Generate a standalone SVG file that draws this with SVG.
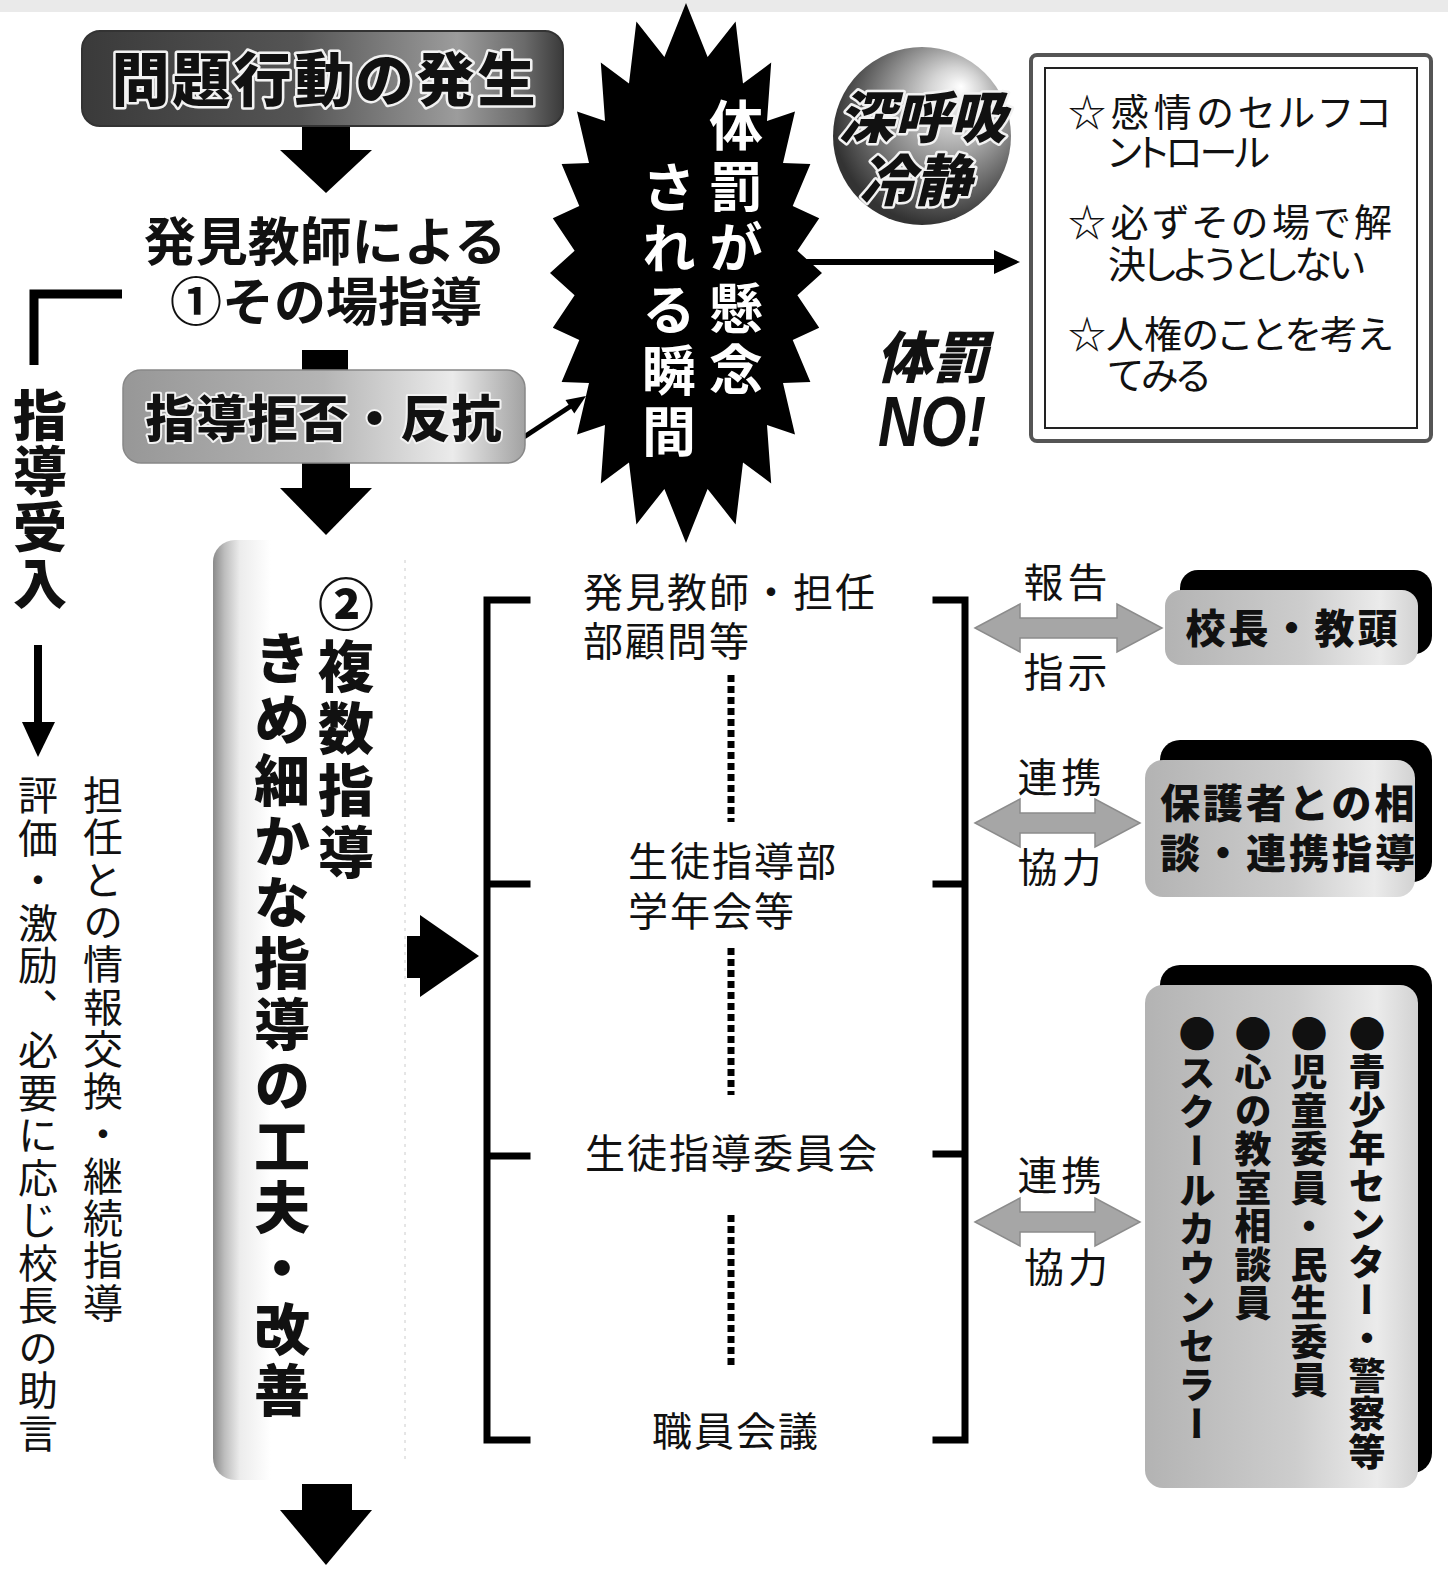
<svg xmlns="http://www.w3.org/2000/svg" width="1448" height="1572" viewBox="0 0 1448 1572">
<defs>
<style>
.t{font-family:"Noto Sans CJK JP","Noto Sans CJK SC",sans-serif;fill:#111}
.r{font-weight:400}
.b{font-weight:700}
.h{font-weight:900}
.v{writing-mode:vertical-rl}
.w{fill:#fff}
.p{font-feature-settings:"palt"}
.ol{stroke:#f2f2f2;stroke-width:5;paint-order:stroke;stroke-linejoin:round}
.blk{fill:#000}
.dot{stroke:#000;stroke-width:7;stroke-dasharray:7 4;fill:none}
.brk{stroke:#000;stroke-width:7;fill:none;stroke-linecap:square}
.dbl{fill:#a6a6a6;stroke:#8c8c8c;stroke-width:1.5}
</style>
<linearGradient id="gTop" x1="0" y1="0" x2="1" y2="0">
<stop offset="0" stop-color="#3a3a3a"/><stop offset="0.45" stop-color="#555"/><stop offset="0.78" stop-color="#9c9c9c"/><stop offset="0.92" stop-color="#6a6a6a"/><stop offset="1" stop-color="#3a3a3a"/>
</linearGradient>
<linearGradient id="gMid" x1="0" y1="0" x2="1" y2="0">
<stop offset="0" stop-color="#979797"/><stop offset="0.5" stop-color="#b5b5b5"/><stop offset="0.82" stop-color="#ebebeb"/><stop offset="1" stop-color="#a2a2a2"/>
</linearGradient>
<linearGradient id="gPanel" x1="0" y1="0" x2="1" y2="0">
<stop offset="0" stop-color="#8a8a8a"/><stop offset="0.06" stop-color="#bdbdbd"/><stop offset="0.14" stop-color="#ececec"/><stop offset="0.3" stop-color="#fff"/><stop offset="1" stop-color="#fff"/>
</linearGradient>
<linearGradient id="gBox" x1="0" y1="0" x2="1" y2="0">
<stop offset="0" stop-color="#b3b3b3"/><stop offset="0.55" stop-color="#cdcdcd"/><stop offset="0.85" stop-color="#ebebeb"/><stop offset="1" stop-color="#d2d2d2"/>
</linearGradient>
<radialGradient id="gBall" cx="0.6" cy="0.4" r="0.6" fx="0.72" fy="0.22">
<stop offset="0" stop-color="#fff"/><stop offset="0.25" stop-color="#d4d4d4"/><stop offset="0.6" stop-color="#8a8a8a"/><stop offset="0.9" stop-color="#4a4a4a"/><stop offset="1" stop-color="#333"/>
</radialGradient>
</defs>

<rect x="0" y="0" width="1448" height="12" fill="#dcdcdc" opacity="0.6"/>

<g id="connectors">
<rect class="blk" x="302" y="124" width="48" height="28"/>
<polygon class="blk" points="280,150 372,150 326,193"/>
<rect class="blk" x="302" y="350" width="46" height="26"/>
<rect class="blk" x="302" y="460" width="48" height="30"/>
<polygon class="blk" points="280,488 372,488 326,535"/>
<rect class="blk" x="302" y="1484" width="50" height="28"/>
<polygon class="blk" points="280,1510 372,1510 326,1565"/>
<line x1="524" y1="437" x2="571" y2="406" stroke="#000" stroke-width="5"/>
<polygon class="blk" points="586,396 574.3,413.5 565.5,400.1"/>
<line x1="800" y1="262" x2="1000" y2="262" stroke="#000" stroke-width="6"/>
<polygon class="blk" points="994,250 1020,262 994,274"/>
<polyline points="34,365 34,294 122,294" stroke="#000" stroke-width="9" fill="none"/>
<rect class="blk" x="34" y="645" width="8" height="80"/>
<polygon class="blk" points="22,722 55,722 38,757"/>
<rect class="blk" x="407" y="936" width="16" height="42"/>
<polygon class="blk" points="420,915 479,956 420,997"/>
<path class="brk" d="M527,600 H487 V1440 H527 M487,884 H527 M487,1156 H527"/>
<path class="brk" d="M936,600 H965 V1440 H936 M936,884 H965 M936,1154 H965"/>
<line class="dot" x1="731" y1="675" x2="731" y2="822"/>
<line class="dot" x1="731" y1="948" x2="731" y2="1095"/>
<line class="dot" x1="731" y1="1215" x2="731" y2="1365"/>
<polygon class="dbl" points="975,628 1020,604 1020,618 1117,618 1117,604 1162,628 1117,652 1117,638 1020,638 1020,652"/>
<polygon class="dbl" points="975,823 1020,799 1020,813 1095,813 1095,799 1140,823 1095,847 1095,833 1020,833 1020,847"/>
<polygon class="dbl" points="975,1222 1020,1198 1020,1212 1095,1212 1095,1198 1140,1222 1095,1246 1095,1232 1020,1232 1020,1246"/>
</g>

<g id="node-occurrence">
<rect x="82" y="31" width="481" height="95" rx="18" fill="url(#gTop)" stroke="#333" stroke-width="2"/>
<text class="t h ol" x="325" y="101" font-size="58" letter-spacing="3" text-anchor="middle">問題行動の発生</text>
</g>

<g id="node-onsite">
<text class="t b" x="325" y="261" font-size="52" text-anchor="middle">発見教師による</text>
<text class="t b" x="326" y="321" font-size="52" text-anchor="middle">①その場指導</text>
</g>

<g id="node-refusal">
<rect x="123" y="370" width="402" height="93" rx="18" fill="url(#gMid)" stroke="#888" stroke-width="1.5"/>
<text class="t h ol" x="324" y="437" font-size="50" letter-spacing="1" text-anchor="middle" style="stroke-width:4">指導拒否・反抗</text>
</g>

<g id="node-starburst">
<polygon class="blk" points="686,3 707.6,57.1 735.6,21.6 743,83.6 771.2,62.6 767,121 795,111.6 783,163 810.4,164.1 792.7,206.1 819.2,218.2 797.4,250.8 822,273 797.4,295.2 819.2,327.8 792.7,339.9 810.4,381.9 783,383 795,434.4 767,425 771.2,483.4 743,462.4 735.6,524.4 707.6,488.9 686,543 664.4,488.9 636.4,524.4 629,462.4 600.8,483.4 605,425 577,434.4 589,383 561.6,381.9 579.3,339.9 552.8,327.8 574.6,295.2 550,273 574.6,250.8 552.8,218.2 579.3,206.1 561.6,164.1 589,163 577,111.6 605,121 600.8,62.6 629,83.6 636.4,21.6 664.4,57.1"/>
<text class="t b v w" x="736" y="98" font-size="54" letter-spacing="7">体罰が懸念</text>
<text class="t b v w" x="669" y="160" font-size="54" letter-spacing="7">される瞬間</text>
</g>

<g id="node-breath">
<circle cx="922" cy="136" r="89" fill="url(#gBall)"/>
<text class="t h ol" x="922" y="138" font-size="56" font-style="italic" text-anchor="middle" style="stroke-width:5">深呼吸</text>
<text class="t h ol" x="915" y="201" font-size="56" font-style="italic" text-anchor="middle" style="stroke-width:5">冷静</text>
</g>

<g id="node-no">
<text class="t h" x="932" y="378" font-size="56" font-style="italic" text-anchor="middle">体罰</text>
<text x="878" y="446" font-family="Liberation Sans, Arial, sans-serif" font-weight="700" font-style="italic" font-size="70" textLength="108" lengthAdjust="spacingAndGlyphs" fill="#111">NO!</text>
</g>

<g id="node-tips">
<rect x="1031" y="55" width="400" height="386" rx="6" fill="#fff" stroke="#555" stroke-width="4"/>
<rect x="1045" y="68" width="372" height="360" fill="none" stroke="#222" stroke-width="2"/>
<text class="t r p" x="1068" y="126" font-size="38" textLength="324" lengthAdjust="spacing">☆感情のセルフコ</text>
<text class="t r p" x="1108" y="166" font-size="38" textLength="162" lengthAdjust="spacing">ントロール</text>
<text class="t r p" x="1068" y="236" font-size="38" textLength="324" lengthAdjust="spacing">☆必ずその場で解</text>
<text class="t r p" x="1108" y="278" font-size="38" textLength="257" lengthAdjust="spacing">決しようとしない</text>
<text class="t r p" x="1068" y="348" font-size="38" textLength="324" lengthAdjust="spacing">☆人権のことを考え</text>
<text class="t r p" x="1108" y="389" font-size="38" textLength="102" lengthAdjust="spacing">てみる</text>
</g>

<g id="node-accept">
<text class="t h v" x="40" y="388" font-size="54" letter-spacing="2">指導受入</text>
</g>

<g id="node-evaluate">
<text class="t r v" x="38" y="775" font-size="40" letter-spacing="2.5">評価・激励、必要に応じ校長の助言</text>
</g>

<g id="node-exchange">
<text class="t r v" x="103" y="775" font-size="40" letter-spacing="2.3">担任との情報交換・継続指導</text>
</g>

<g id="node-multi">
<rect x="213" y="540" width="192" height="940" rx="22" fill="url(#gPanel)"/>
<line x1="405" y1="560" x2="405" y2="1460" stroke="#ccc" stroke-width="1" stroke-dasharray="3 5"/>
<text class="t h v" x="346" y="576" font-size="56" letter-spacing="6">②複数指導</text>
<text class="t h v" x="282" y="630" font-size="56" letter-spacing="5">きめ細かな指導の工夫・改善</text>
</g>

<g id="node-org">
<text class="t r" font-size="40" letter-spacing="2">
<tspan x="583" y="607">発見教師・担任</tspan>
<tspan x="583" y="656">部顧問等</tspan>
<tspan x="628" y="876">生徒指導部</tspan>
<tspan x="628" y="926">学年会等</tspan>
<tspan x="585" y="1168">生徒指導委員会</tspan>
<tspan x="652" y="1446">職員会議</tspan>
</text>
</g>

<g id="labels">
<text class="t r" font-size="40" letter-spacing="4" text-anchor="middle">
<tspan x="1074" y="597">報告</tspan>
<tspan x="1074" y="687">指示</tspan>
<tspan x="1068" y="792">連携</tspan>
<tspan x="1068" y="882">協力</tspan>
<tspan x="1068" y="1190">連携</tspan>
<tspan x="1068" y="1282">協力</tspan>
</text>
</g>

<g id="node-principal">
<rect x="1180" y="570" width="252" height="84" rx="18" fill="#000"/>
<rect x="1165" y="590" width="253" height="75" rx="16" fill="url(#gBox)"/>
<text class="t h" x="1293" y="643" font-size="40" letter-spacing="3" text-anchor="middle">校長・教頭</text>
</g>

<g id="node-parents">
<rect x="1160" y="740" width="272" height="142" rx="20" fill="#000"/>
<rect x="1145" y="760" width="270" height="137" rx="18" fill="url(#gBox)"/>
<text class="t h" font-size="40" letter-spacing="3">
<tspan x="1160" y="818">保護者との相</tspan>
<tspan x="1160" y="868">談・連携指導</tspan>
</text>
</g>

<g id="node-external">
<rect x="1160" y="965" width="272" height="508" rx="20" fill="#000"/>
<rect x="1145" y="985" width="273" height="503" rx="18" fill="url(#gBox)"/>
<text class="t h v" x="1367" y="1015" font-size="37" letter-spacing="1">●青少年センター・警察等</text>
<text class="t h v" x="1309" y="1015" font-size="37" letter-spacing="1.5">●児童委員・民生委員</text>
<text class="t h v" x="1253" y="1015" font-size="37" letter-spacing="1.5">●心の教室相談員</text>
<text class="t h v" x="1197" y="1015" font-size="37" letter-spacing="2">●スクールカウンセラー</text>
</g>
</svg>
